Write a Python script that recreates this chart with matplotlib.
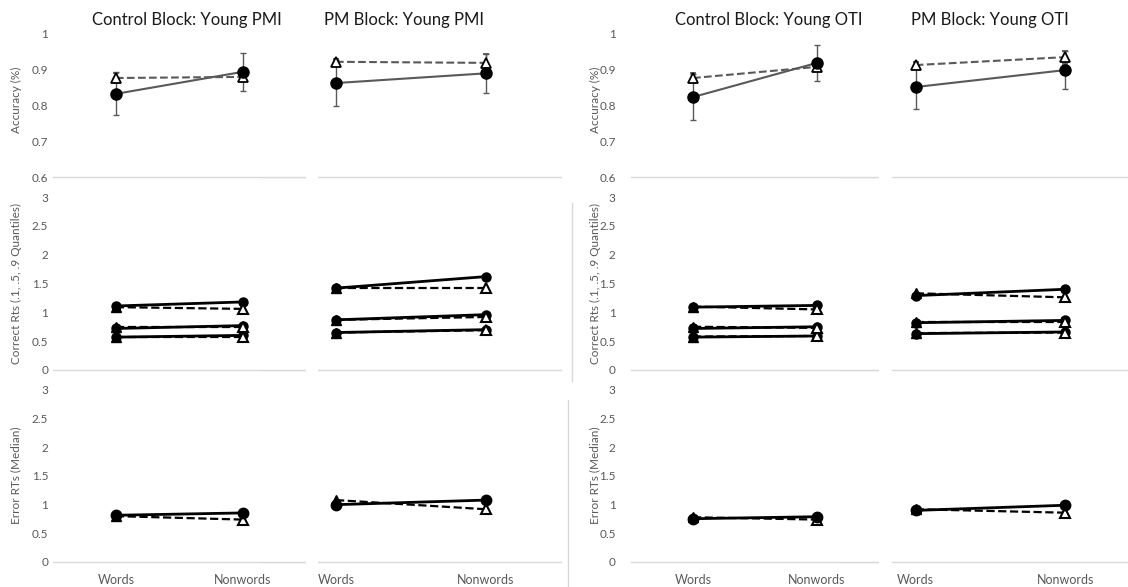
import matplotlib
matplotlib.use('Agg')
import matplotlib.pyplot as plt
from matplotlib.lines import Line2D
from matplotlib.patches import Rectangle

plt.rcParams['font.family'] = ['Lato', 'DejaVu Sans']

# data
categories = ["Words", "Nonwords"]
titles = ["Control Block: Young PMI", "PM Block: Young PMI",
          "Control Block: Young OTI", "PM Block: Young OTI"]

# accuracy: solid line / circles and dashed line / triangles
acc_solid = [[0.831, 0.892], [0.861, 0.888], [0.822, 0.917], [0.850, 0.897]]
acc_solid_err = [[0.060, 0.053], [0.063, 0.055], [0.064, 0.050], [0.060, 0.053]]
acc_dashed = [[0.875, 0.878], [0.920, 0.917], [0.875, 0.906], [0.911, 0.933]]
acc_dashed_err = [[0.013, 0.010], [0.008, 0.026], [0.013, 0.008], [0.008, 0.018]]

# correct RTs (.1, .5, .9 quantiles)
crt_solid = [
    [[0.57, 0.60], [0.72, 0.77], [1.11, 1.18]],
    [[0.65, 0.70], [0.87, 0.96], [1.42, 1.62]],
    [[0.57, 0.59], [0.72, 0.75], [1.09, 1.12]],
    [[0.63, 0.66], [0.82, 0.86], [1.29, 1.40]],
]
crt_dashed = [
    [[0.58, 0.58], [0.74, 0.74], [1.09, 1.06]],
    [[0.65, 0.69], [0.87, 0.92], [1.43, 1.43]],
    [[0.58, 0.59], [0.75, 0.73], [1.10, 1.05]],
    [[0.64, 0.65], [0.84, 0.84], [1.33, 1.26]],
]

# error RTs (median)
ert_solid = [[0.815, 0.856], [1.00, 1.08], [0.755, 0.79], [0.90, 0.99]]
ert_dashed = [[0.80, 0.74], [1.08, 0.92], [0.78, 0.74], [0.92, 0.86]]

W, H = 1128, 587
fig = plt.figure(figsize=(W / 100, H / 100), dpi=100)

col_x = [(52.5, 306), (261, 561), (631, 879), (841, 1140)]
row_y = [(33, 177), (197, 370), (390, 562)]
grey = '#595959'
light = '#d9d9d9'


def make_ax(c, r):
    l, rr = col_x[c]
    t, b = row_y[r]
    ax = fig.add_axes([l / W, 1 - b / H, (rr - l) / W, (b - t) / H])
    ax.set_xlim(-0.5, 1.5)
    for s in ['top', 'right', 'left']:
        ax.spines[s].set_visible(False)
    ax.spines['bottom'].set_color(light)
    ax.spines['bottom'].set_linewidth(1)
    ax.tick_params(length=0, colors=grey, labelsize=8.5)
    ax.set_xticks([0, 1])
    if r == 2:
        ax.set_xticklabels(categories, fontsize=9, color=grey)
        ax.tick_params(axis='x', pad=9)
    else:
        ax.set_xticklabels([])
    if r == 0:
        ax.set_ylim(0.6, 1.0)
        ax.set_yticks([0.6, 0.7, 0.8, 0.9, 1.0])
        ax.set_yticklabels(['0.6', '0.7', '0.8', '0.9', '1'])
    else:
        ax.set_ylim(0, 3)
        ax.set_yticks([0, 0.5, 1, 1.5, 2, 2.5, 3])
        ax.set_yticklabels(['0', '0.5', '1', '1.5', '2', '2.5', '3'])
    if c in (0, 2):
        ax.tick_params(axis='y', pad=3 if c == 0 else 11)
        ax.set_zorder(2)
        ax.patch.set_facecolor('white')
    else:
        ax.set_yticklabels([])
        ax.set_zorder(1)
    return ax


x = [0, 1]
for c in [1, 3, 0, 2]:
    # accuracy row
    ax = make_ax(c, 0)
    ax.errorbar(x, acc_dashed[c], yerr=acc_dashed_err[c], color=grey, ls='--', lw=1.5,
                marker='^', ms=7, mfc='white', mec='black', mew=1.3,
                ecolor=grey, elinewidth=1, capsize=2.5)
    ax.errorbar(x, acc_solid[c], yerr=acc_solid_err[c], color=grey, ls='-', lw=1.5,
                marker='o', ms=8, mfc='black', mec='black',
                ecolor=grey, elinewidth=1, capsize=2.5)

    # correct RT quantiles
    ax = make_ax(c, 1)
    for q in range(3):
        ax.plot(x, crt_solid[c][q], color='black', lw=2, marker='o', ms=6.5)
        ax.plot(x, crt_dashed[c][q], color='black', lw=1.6, ls='--')
        ax.plot(x[0], crt_dashed[c][q][0], ls='none', marker='^', ms=7.5,
                mfc='black', mec='black')
        ax.plot(x[1], crt_dashed[c][q][1], ls='none', marker='^', ms=6.5,
                mfc='white', mec='black', mew=1.5)

    # error RTs
    ax = make_ax(c, 2)
    ax.plot(x, ert_dashed[c], color='black', lw=1.6, ls='--')
    ax.plot(x[0], ert_dashed[c][0], ls='none', marker='^', ms=7, mfc='black', mec='black')
    ax.plot(x[1], ert_dashed[c][1], ls='none', marker='^', ms=6.5,
            mfc='white', mec='black', mew=1.5)
    ax.plot(x, ert_solid[c], color='black', lw=2, marker='o', ms=7.5)

# gaps between overlapping chart boxes
for gx0, gx1 in [(306, 318), (879, 892)]:
    fig.add_artist(Rectangle((gx0 / W, 0), (gx1 - gx0) / W, 1, transform=fig.transFigure,
                             facecolor='white', edgecolor='none', zorder=5))

# chart border fragments
fig.add_artist(Line2D([572 / W, 572 / W], [1 - 203 / H, 1 - 381 / H], color=light, lw=1, zorder=6))
fig.add_artist(Line2D([568 / W, 568 / W], [1 - 400 / H, 0], color=light, lw=1, zorder=6))

# titles
for t, cx in zip(titles, [187, 404, 769, 990]):
    fig.text(cx / W, 1 - 20 / H, t, ha='center', va='center', fontsize=12, color='#1a1a1a', zorder=7)

# y labels
ylabels = ["Accuracy (%)", "Correct Rts (.1, .5, .9 Quantiles)", "Error RTs (Median)"]
ycent = [100, 283, 475]
for lab, cy in zip(ylabels, ycent):
    for cx in [16, 595]:
        fig.text(cx / W, 1 - cy / H, lab, rotation=90, ha='center', va='center',
                 fontsize=8.5, color=grey, zorder=7)

fig.savefig('out.png', dpi=100, facecolor='white')
